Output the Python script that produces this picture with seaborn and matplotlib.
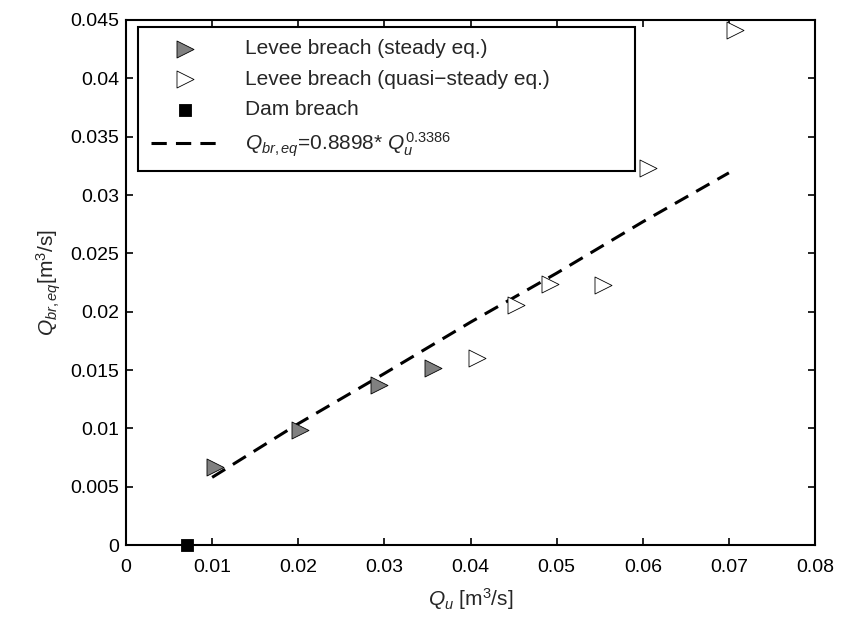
import numpy as np
import pandas as pd
import matplotlib
matplotlib.use('Agg')
import matplotlib.pyplot as plt
import seaborn as sns

# values
steady_qu = [0.0103, 0.0202, 0.0294, 0.0356]
steady_qbr = [0.0067, 0.0099, 0.0137, 0.0152]

quasi_qu = [0.0407, 0.0453, 0.0492, 0.0554, 0.0606, 0.0707]
quasi_qbr = [0.0160, 0.0206, 0.0224, 0.0223, 0.0323, 0.0441]

dam_qu = [0.0071]
dam_qbr = [0.0]

fit_qu = [0.01, 0.02, 0.03, 0.04, 0.05, 0.06, 0.07]
fit_qbr = [0.0058, 0.0104, 0.0147, 0.0191, 0.0233, 0.0277, 0.0319]

xtick_labels = ['0', '0.01', '0.02', '0.03', '0.04', '0.05', '0.06', '0.07', '0.08']
ytick_labels = ['0', '0.005', '0.01', '0.015', '0.02', '0.025', '0.03', '0.035', '0.04', '0.045']

sns.set_style('ticks')
plt.rcParams['font.family'] = ['Liberation Sans', 'DejaVu Sans']
plt.rcParams['mathtext.fontset'] = 'custom'
plt.rcParams['mathtext.rm'] = 'Liberation Sans'
plt.rcParams['mathtext.it'] = 'Liberation Sans:italic'
plt.rcParams['mathtext.bf'] = 'Liberation Sans:bold'

fig = plt.figure(figsize=(8.43, 6.19), dpi=100)
ax = fig.add_axes([0.1495, 0.1195, 0.8173, 0.8482])

sns.scatterplot(x=steady_qu, y=steady_qbr, ax=ax, marker='>', s=150,
                color='#808080', edgecolor='black', linewidth=0.6,
                label='Levee breach (steady eq.)', zorder=3)
sns.scatterplot(x=quasi_qu, y=quasi_qbr, ax=ax, marker='>', s=150,
                color='white', edgecolor='black', linewidth=0.6,
                label='Levee breach (quasi\u2212steady eq.)', zorder=3)
sns.scatterplot(x=dam_qu, y=dam_qbr, ax=ax, marker='s', s=75,
                color='black', edgecolor='black', linewidth=0.6,
                label='Dam breach', zorder=4, clip_on=False)
sns.lineplot(x=fit_qu, y=fit_qbr, ax=ax, color='black', linewidth=2.2,
             label=r'$Q_{br,eq}$=0.8898* $Q_u^{\mathrm{0.3386}}$', zorder=2)
ax.lines[-1].set_dashes((5, 3))

ax.set_xlim(0, 0.08)
ax.set_ylim(0, 0.045)
ax.set_xticks(np.arange(0, 0.0801, 0.01))
ax.set_yticks(np.arange(0, 0.0451, 0.005))
ax.set_xticklabels(xtick_labels)
ax.set_yticklabels(ytick_labels)
ax.tick_params(direction='in', length=5, width=1.2, top=True, right=True,
               labelsize=14, colors='black')
ax.tick_params(axis='x', pad=10)
ax.tick_params(axis='y', pad=5)
for s in ax.spines.values():
    s.set_linewidth(1.5)
    s.set_color('black')

ax.set_xlabel(r'$Q_u$ [m$^3$/s]', fontsize=15, labelpad=7)
ax.set_ylabel(r'$Q_{br,eq}$[m$^3$/s]', fontsize=15, labelpad=5)

leg = ax.legend(loc='upper left', bbox_to_anchor=(0.0174, 0.0, 0.7213, 0.9872),
                mode='expand', borderaxespad=0, fontsize=15,
                frameon=True, fancybox=False, edgecolor='black', framealpha=1,
                borderpad=0.6, handlelength=3.3, labelspacing=0.55,
                handletextpad=1.25)
leg.get_frame().set_linewidth(1.5)

fig.savefig('out.png', dpi=100)
